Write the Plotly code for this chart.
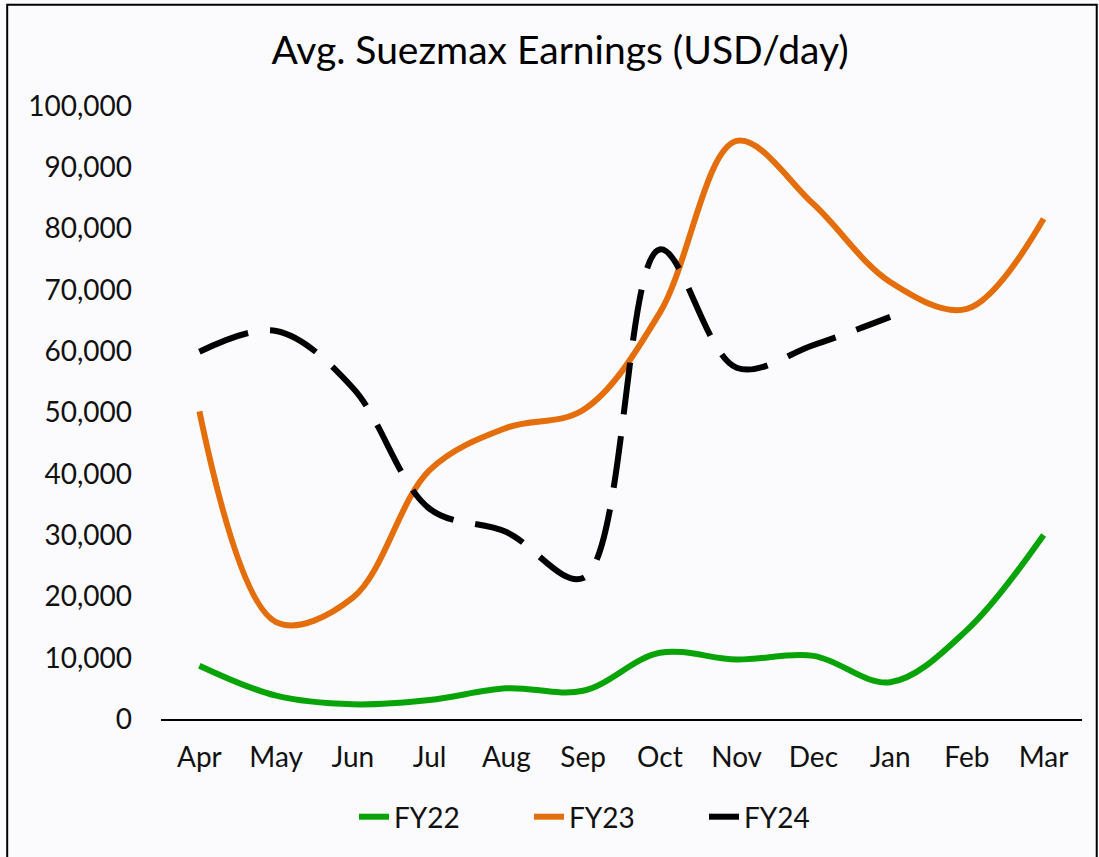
import plotly.graph_objects as go

# DATA
MONTHS = ['Apr', 'May', 'Jun', 'Jul', 'Aug', 'Sep', 'Oct', 'Nov', 'Dec', 'Jan', 'Feb', 'Mar']
FY22 = [8700, 3800, 2400, 3100, 5000, 4600, 10800, 9700, 10300, 6000, 14500, 30000]
FY23 = [50200, 15800, 19800, 40600, 47500, 50400, 66300, 94300, 84000, 71300, 66900, 81600]
FY24 = [59900, 63300, 54000, 34300, 30500, 23000, 76600, 57300, 61000, 65600]

# STYLE
GREEN = '#07A307'
ORANGE = '#E46D0C'
BLACK = '#000000'
BG_COLOR = '#FBFBFD'
FONT = 'Lato, sans-serif'

fig = go.Figure()

fig.add_trace(go.Scatter(
    x=MONTHS, y=FY22, name='FY22', mode='lines',
    line=dict(color=GREEN, width=6, shape='spline', smoothing=1)
))
fig.add_trace(go.Scatter(
    x=MONTHS, y=FY23, name='FY23', mode='lines',
    line=dict(color=ORANGE, width=6, shape='spline', smoothing=1)
))
fig.add_trace(go.Scatter(
    x=MONTHS[:len(FY24)], y=FY24, name='FY24', mode='lines',
    line=dict(color=BLACK, width=6, shape='spline', smoothing=1, dash='52px,22px')
))

fig.update_layout(
    width=1099, height=857,
    paper_bgcolor=BG_COLOR,
    plot_bgcolor=BG_COLOR,
    font=dict(family=FONT, color='#111111', size=28),
    margin=dict(l=161, r=17, t=106, b=138),
    title=dict(text='Avg. Suezmax Earnings (USD/day)', x=560 / 1099, xanchor='center',
               xref='container', y=1 - 50 / 857, yanchor='middle',
               font=dict(size=39, color='#000000')),
    xaxis=dict(
        categoryorder='array', categoryarray=MONTHS, range=[-0.5, 11.5],
        showline=True, linecolor='#000000', linewidth=2,
        showgrid=False, ticks='', ticklabelstandoff=12, automargin=False
    ),
    yaxis=dict(
        range=[0, 100000], tickvals=list(range(0, 100001, 10000)),
        tickformat=',d', showgrid=False, zeroline=False, showline=False,
        ticklabelstandoff=28, automargin=False
    ),
    legend=dict(orientation='h', x=354 / 1099, xanchor='left', xref='container',
                y=1 - 817 / 857, yanchor='middle', yref='container',
                font=dict(size=28), entrywidth=130, bgcolor='rgba(0,0,0,0)'),
    shapes=[dict(type='rect', xref='paper', yref='paper', x0=-0.167, x1=1.016,
                 y0=-0.23, y1=1.165, line=dict(color='#000000', width=2))]
)

# page body margin off so the figure sits at the window corner
fig.write_html('out.html', config={'displayModeBar': False},
               post_script="document.body.style.margin='0';")
